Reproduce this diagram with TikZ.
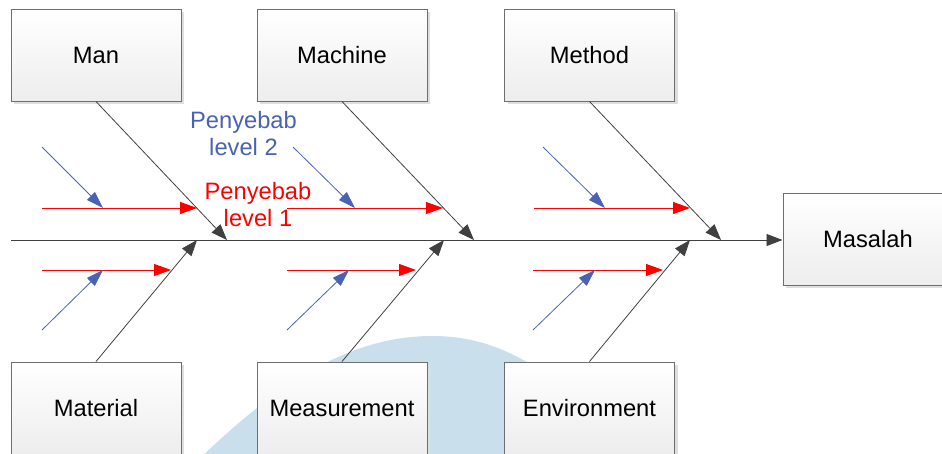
\documentclass[tikz,border=0pt]{standalone}
\usepackage{fontspec}
\setmainfont{Liberation Sans}
\usetikzlibrary{arrows.meta,shadows,calc}
\definecolor{bone}{RGB}{64,64,64}
\definecolor{lvlone}{RGB}{255,0,0}
\definecolor{lvltwo}{RGB}{72,98,180}
\definecolor{wmark}{RGB}{201,223,236}
\definecolor{boxline}{RGB}{110,110,110}
\tikzset{
  catbox/.style={draw=boxline, line width=1pt, top color=white, bottom color=black!7,
    minimum width=170pt, minimum height=92pt, inner sep=0pt,
    general shadow={fill=black!13, shadow xshift=3pt, shadow yshift=-3pt},
    font=\fontsize{23.7}{27}\selectfont},
  bonearrow/.style={draw=bone, line width=0.8pt, -{Triangle[length=16pt,width=12pt]}},
  onearrow/.style={draw=lvlone, line width=0.9pt, -{Triangle[length=17pt,width=12pt]}},
  twoarrow/.style={draw=lvltwo, line width=0.8pt, -{Triangle[length=17pt,width=11pt]}},
  lbl/.style={align=center, inner sep=0pt, font=\fontsize{23.7}{27}\selectfont},
}
\begin{document}
\begin{tikzpicture}[x=1pt,y=-1pt]
\useasboundingbox (0,0) rectangle (942,453);
% background watermark
\fill[wmark] (193,465) .. controls (290,370) and (360,336) .. (433,336)
  .. controls (500,336) and (560,370) .. (650,470) -- cycle;
% category boxes
\node[catbox] (man) at (96,55) {Man};
\node[catbox] (machine) at (342,55) {Machine};
\node[catbox] (method) at (589.5,55) {Method};
\node[catbox] (material) at (96,408) {Material};
\node[catbox] (measure) at (342,408) {Measurement};
\node[catbox] (env) at (589.5,408) {Environment};
\node[catbox] (masalah) at (868,239) {Masalah};
% spine
\coordinate (spinestart) at (11,240);
\draw[bonearrow] (spinestart) -- (masalah.west |- spinestart);
% bone tips
\coordinate (t1) at (227,240);
\coordinate (t2) at (474,240);
\coordinate (t3) at (721,240);
\coordinate (b1) at (197,240);
\coordinate (b2) at (444,240);
\coordinate (b3) at (690,240);
\draw[bonearrow] (man.south) -- (t1);
\draw[bonearrow] (machine.south) -- (t2);
\draw[bonearrow] (method.south) -- (t3);
\draw[bonearrow] (material.north) -- (b1);
\draw[bonearrow] (measure.north) -- (b2);
\draw[bonearrow] (env.north) -- (b3);
% level 1 causes (top)
\coordinate (r1s) at (42,208);  \coordinate (r1e) at (197,208);
\coordinate (r2s) at (287,208); \coordinate (r2e) at (443,208);
\coordinate (r3s) at (534,208); \coordinate (r3e) at (690,208);
% level 1 causes (bottom)
\coordinate (r4s) at (42,270);  \coordinate (r4e) at (171,270);
\coordinate (r5s) at (287,270); \coordinate (r5e) at (416,270);
\coordinate (r6s) at (533,270); \coordinate (r6e) at (663,270);
% level 2 causes
\coordinate (u1s) at (42,147);  \coordinate (u1e) at (103,208);
\coordinate (u2s) at (293,147); \coordinate (u2e) at (355,208);
\coordinate (u3s) at (543,147); \coordinate (u3e) at (605,208);
\coordinate (u4s) at (42,330);  \coordinate (u4e) at (103,270);
\coordinate (u5s) at (287,330); \coordinate (u5e) at (349,270);
\coordinate (u6s) at (533,330); \coordinate (u6e) at (595,270);
\foreach \i in {1,...,6} {
  \draw[onearrow] (r\i s) -- (r\i e);
  \draw[twoarrow] (u\i s) -- (u\i e);
}
% labels
\node[lbl, text=lvltwo] (lvl2) at (243.5,134) {Penyebab\\level 2};
\node[lbl, text=lvlone] (lvl1) at (258,205) {Penyebab\\level 1};
\end{tikzpicture}
\end{document}
